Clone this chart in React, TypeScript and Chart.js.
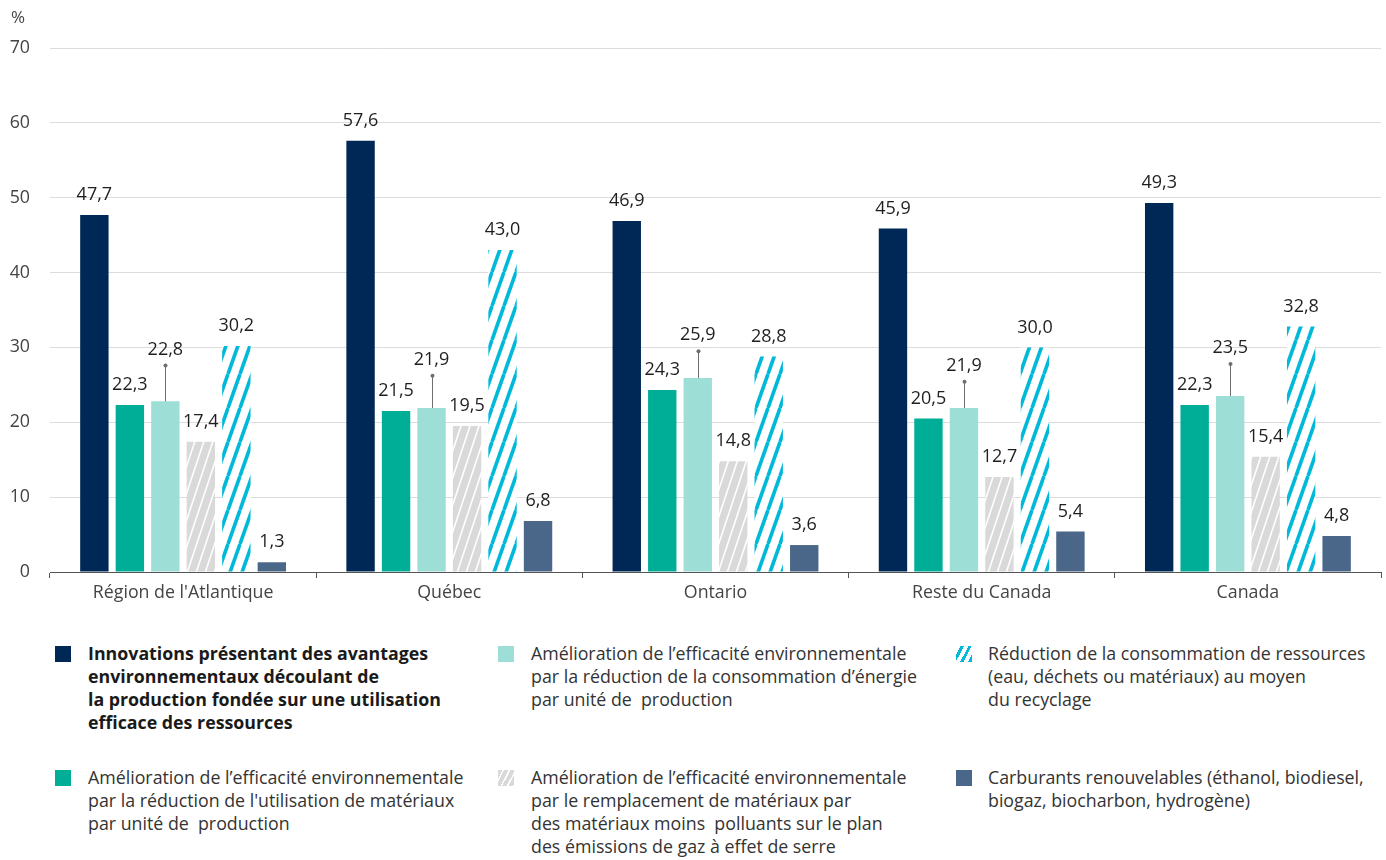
import React, { useEffect, useRef } from "react";
import { Chart, registerables } from "chart.js";

Chart.register(...registerables);

const categories = ["Région de l'Atlantique", "Québec", "Ontario", "Reste du Canada", "Canada"];

const seriesLabels = [
  "Innovations présentant des avantages environnementaux découlant de la production fondée sur une utilisation efficace des ressources",
  "Amélioration de l’efficacité environnementale par la réduction de l'utilisation de matériaux par unité de  production",
  "Amélioration de l’efficacité environnementale par la réduction de la consommation d’énergie par unité de  production",
  "Amélioration de l’efficacité environnementale par le remplacement de matériaux par des matériaux moins  polluants sur le plan des émissions de gaz à effet de serre",
  "Réduction de la consommation de ressources (eau, déchets ou matériaux) au moyen du recyclage",
  "Carburants renouvelables (éthanol, biodiesel, biogaz, biocharbon, hydrogène)",
];

const innovations = [47.7, 57.6, 46.9, 45.9, 49.3];
const materiaux = [22.3, 21.5, 24.3, 20.5, 22.3];
const energie = [22.8, 21.9, 25.9, 21.9, 23.5];
const energieErrHigh = [27.6, 26.2, 29.5, 25.4, 27.8];
const remplacement = [17.4, 19.5, 14.8, 12.7, 15.4];
const recyclage = [30.2, 43.0, 28.8, 30.0, 32.8];
const carburants = [1.3, 6.8, 3.6, 5.4, 4.8];

const yMin = 0;
const yMax = 70;
const yStep = 10;

const NAVY = "#002856";
const GREEN = "#00ae98";
const LTEAL = "#9ddfd7";
const GREY = "#d9d9d9";
const CYAN = "#00b9d9";
const SLATE = "#4a6688";

const FONT = "'Open Sans', 'Noto Sans', sans-serif";

function makeHatch(bg: string, fg: string, w: number, h: number, lw: number): CanvasPattern | string {
  const c = document.createElement("canvas");
  c.width = w;
  c.height = h;
  const ctx = c.getContext("2d");
  if (!ctx) return fg;
  ctx.fillStyle = bg;
  ctx.fillRect(0, 0, w, h);
  ctx.strokeStyle = fg;
  ctx.lineWidth = lw;
  ctx.lineCap = "butt";
  for (const dx of [-w, 0, w]) {
    ctx.beginPath();
    ctx.moveTo(dx, h);
    ctx.lineTo(dx + w, 0);
    ctx.stroke();
  }
  const p = ctx.createPattern(c, "repeat");
  return p || fg;
}

const fmt = (v: number) => v.toFixed(1).replace(".", ",");

const labelPlugin = {
  id: "valueLabels",
  afterDatasetsDraw(chart: any) {
    const ctx = chart.ctx;
    const yScale = chart.scales.y;
    ctx.save();
    chart.data.datasets.forEach((ds: any, di: number) => {
      const meta = chart.getDatasetMeta(di);
      meta.data.forEach((el: any, i: number) => {
        const v = ds.data[i];
        let top = el.y;
        let offset = 20;
        if (ds.errHigh) {
          const ey = yScale.getPixelForValue(ds.errHigh[i]);
          ctx.strokeStyle = "#6f6f6f";
          ctx.lineWidth = 1;
          ctx.beginPath();
          ctx.moveTo(Math.round(el.x) + 0.5, el.y);
          ctx.lineTo(Math.round(el.x) + 0.5, ey);
          ctx.stroke();
          ctx.fillStyle = "#6f6f6f";
          ctx.beginPath();
          ctx.arc(Math.round(el.x) + 0.5, ey, 2, 0, Math.PI * 2);
          ctx.fill();
          top = ey;
          offset = 16;
        }
        ctx.fillStyle = "#1f1f1f";
        ctx.font = `18px ${FONT}`;
        ctx.textAlign = "center";
        ctx.textBaseline = "middle";
        ctx.fillText(fmt(v), el.x, top - offset);
      });
    });
    ctx.fillStyle = "#444";
    ctx.font = `17px ${FONT}`;
    ctx.textAlign = "left";
    ctx.textBaseline = "middle";
    ctx.fillText("%", 11, 18);
    ctx.restore();
  },
};

const legendItems = [
  { col: 0, row: 0, swatch: NAVY, bold: true, lines: ["Innovations présentant des avantages", "environnementaux découlant de", "la production fondée sur une utilisation", "efficace des ressources"] },
  { col: 0, row: 1, swatch: GREEN, bold: false, lines: ["Amélioration de l’efficacité environnementale", "par la réduction de l'utilisation de matériaux", "par unité de  production"] },
  { col: 1, row: 0, swatch: LTEAL, bold: false, lines: ["Amélioration de l’efficacité environnementale", "par la réduction de la consommation d’énergie", "par unité de  production"] },
  { col: 1, row: 1, swatch: "greyhatch", bold: false, lines: ["Amélioration de l’efficacité environnementale", "par le remplacement de matériaux par", "des matériaux moins  polluants sur le plan", "des émissions de gaz à effet de serre"] },
  { col: 2, row: 0, swatch: "cyanhatch", bold: false, lines: ["Réduction de la consommation de ressources", "(eau, déchets ou matériaux) au moyen", "du recyclage"] },
  { col: 2, row: 1, swatch: SLATE, bold: false, lines: ["Carburants renouvelables (éthanol, biodiesel,", "biogaz, biocharbon, hydrogène)"] },
];

const colSwatchX = [55, 498, 956];
const colTextX = [88, 531, 988];
const rowTop = [642, 766];

function swatchStyle(s: string): React.CSSProperties {
  const base: React.CSSProperties = { position: "absolute", width: 16, height: 16 };
  if (s === "greyhatch") {
    return { ...base, background: `repeating-linear-gradient(117deg, ${GREY} 0px, ${GREY} 4px, #ffffff 4px, #ffffff 5.5px)` };
  }
  if (s === "cyanhatch") {
    return { ...base, background: `repeating-linear-gradient(117deg, #ffffff 0px, #ffffff 4px, ${CYAN} 4px, ${CYAN} 7px)` };
  }
  return { ...base, background: s };
}

export default function App() {
  const canvasRef = useRef<HTMLCanvasElement | null>(null);

  useEffect(() => {
    if (!canvasRef.current) return;
    const greyHatch = makeHatch(GREY, "#ffffff", 9, 27, 1.6);
    const cyanHatch = makeHatch("#ffffff", CYAN, 12, 34, 3.6);
    const chart = new Chart(canvasRef.current, {
      type: "bar",
      data: {
        labels: categories,
        datasets: [
          { label: seriesLabels[0], data: innovations, backgroundColor: NAVY },
          { label: seriesLabels[1], data: materiaux, backgroundColor: GREEN },
          { label: seriesLabels[2], data: energie, backgroundColor: LTEAL, errHigh: energieErrHigh } as any,
          { label: seriesLabels[3], data: remplacement, backgroundColor: greyHatch },
          { label: seriesLabels[4], data: recyclage, backgroundColor: cyanHatch },
          { label: seriesLabels[5], data: carburants, backgroundColor: SLATE },
        ],
      },
      options: {
        responsive: false,
        animation: false,
        devicePixelRatio: 1,
        layout: { padding: { top: 48, right: 5, left: 0, bottom: 0 } },
        datasets: { bar: { categoryPercentage: 0.8, barPercentage: 0.8 } },
        plugins: { legend: { display: false }, tooltip: { enabled: false } },
        scales: {
          x: {
            grid: { drawOnChartArea: false, drawTicks: true, tickLength: 6, offset: true, color: "#555" },
            border: { color: "#555", width: 1 },
            ticks: { color: "#444", font: { family: FONT, size: 17.8 }, padding: 4 },
            afterFit(s: any) { s.height = 615 - 572; },
          },
          y: {
            min: yMin,
            max: yMax,
            ticks: { stepSize: yStep, padding: 20, color: "#444", font: { family: FONT, size: 17.8 } },
            grid: { color: "#dcdcdc", drawTicks: false },
            border: { display: false },
            afterFit(s: any) { s.width = 50; },
          },
        },
      },
      plugins: [labelPlugin],
    });
    return () => chart.destroy();
  }, []);

  return (
    <div style={{ position: "absolute", left: 0, top: 0, width: 1386, height: 860, background: "#fff", fontFamily: FONT }}>
      <canvas ref={canvasRef} width={1386} height={615} style={{ position: "absolute", left: 0, top: 0, width: 1386, height: 615 }} />
      {legendItems.map((it, k) => (
        <React.Fragment key={k}>
          <div style={{ ...swatchStyle(it.swatch), left: colSwatchX[it.col], top: rowTop[it.row] + 4 }} />
          <div
            style={{
              position: "absolute",
              left: colTextX[it.col],
              top: rowTop[it.row],
              fontSize: 17.8,
              lineHeight: "23px",
              color: it.bold ? "#1a1a1a" : "#333",
              fontWeight: it.bold ? 700 : 400,
              whiteSpace: "pre",
            }}
          >
            {it.lines.map((l, j) => (
              <div key={j}>{l}</div>
            ))}
          </div>
        </React.Fragment>
      ))}
    </div>
  );
}
